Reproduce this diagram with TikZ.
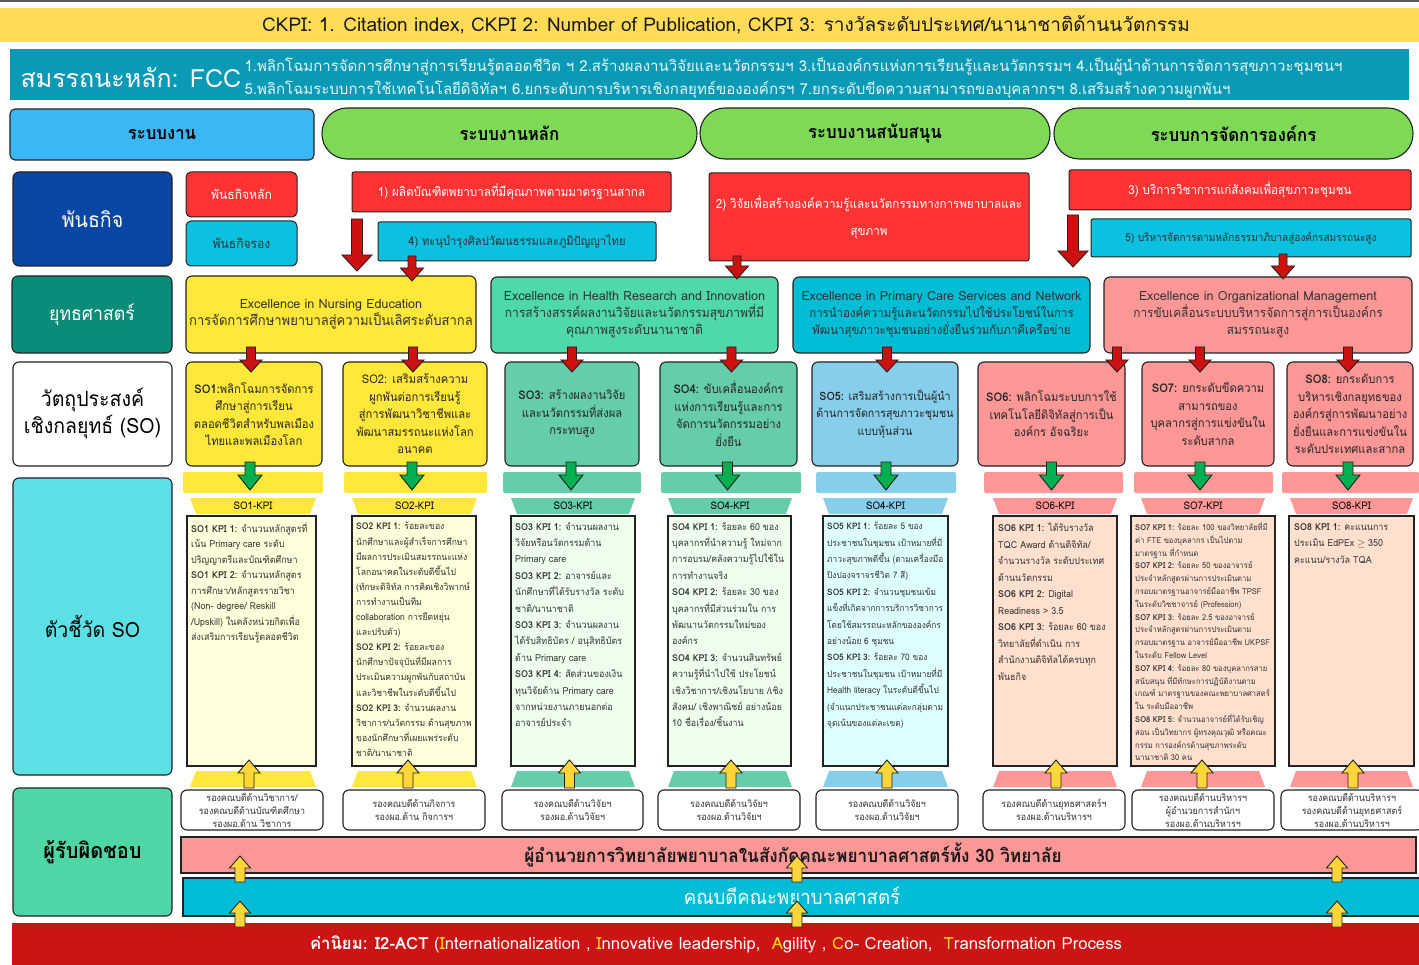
\documentclass[tikz,border=0pt]{standalone}
\usepackage{fontspec}
\setmainfont{Loma}[Script=Thai, FakeStretch=0.93]
\newfontfamily\widefont{Loma}[Script=Thai]
\usetikzlibrary{calc}

\definecolor{edge}{HTML}{222222}
\definecolor{hdryellow}{HTML}{FFDB58}
\definecolor{fccteal}{HTML}{0A9AB5}
\definecolor{fcctext}{HTML}{E4F6FA}
\definecolor{sysblue}{HTML}{3CB7F5}
\definecolor{sysgreen}{HTML}{7ED957}
\definecolor{misblue}{HTML}{0A46A5}
\definecolor{misred}{HTML}{FF3333}
\definecolor{miscyan}{HTML}{0CC0DF}
\definecolor{strteal}{HTML}{0A8C78}
\definecolor{stryellow}{HTML}{FFE83A}
\definecolor{strgreen}{HTML}{4FD8A8}
\definecolor{strcyan}{HTML}{00BDD6}
\definecolor{strpink}{HTML}{FF9797}
\definecolor{sogreen}{HTML}{66CDAA}
\definecolor{soblue}{HTML}{87CEEB}
\definecolor{kpiyellow}{HTML}{FFFFDC}
\definecolor{kpigreen}{HTML}{EEFFEE}
\definecolor{kpicyan}{HTML}{DDFFFF}
\definecolor{kpipeach}{HTML}{FFE0CF}
\definecolor{kpilbl}{HTML}{5CE0E6}
\definecolor{resgreen}{HTML}{4ED6A6}
\definecolor{bandcyan}{HTML}{00BCD6}
\definecolor{valred}{HTML}{CC1414}
\definecolor{arrred}{HTML}{CC1111}
\definecolor{arrgreen}{HTML}{00B050}
\definecolor{arryellow}{HTML}{FFD63A}
\definecolor{txt}{HTML}{333333}
\definecolor{valyellow}{HTML}{FFE600}

% box given by its pixel corners (x1,y1)-(x2,y2)
\newcommand\bx[7]{%
  \pgfmathsetmacro\bxw{#5-#3}%
  \pgfmathsetmacro\bxh{#6-#4}%
  \node[inner sep=0pt, outer sep=0pt, minimum width=\bxw pt, minimum height=\bxh pt, #2]
    (#1) at ({(#3+#5)/2},{(#4+#6)/2}) {#7};}

% vertical block arrow: style, start, tip, shaft half width, head half width, head length
\newcommand\varrow[6]{%
  \draw[#1] let \p1=(#2), \p2=(#3), \p3=($(#3)!#6!(#2)$) in
    (\x1-#4,\y1) -- (\x1-#4,\y3) -- (\x1-#5,\y3) -- (\x1,\y2)
    -- (\x1+#5,\y3) -- (\x1+#4,\y3) -- (\x1+#4,\y1) -- cycle;}

% strategy -> SO arrow
\newcommand\soarrow[3]{%
  \coordinate (rt#1) at ($(so#1.north)+(#2,10)$);
  \coordinate (rs#1) at ($(rt#1 |- #3.south)+(0,-6)$);
  \varrow{redarr}{rs#1}{rt#1}{4.5pt}{11pt}{12pt}}

% SO -> KPI band arrow
\newcommand\kpiarrow[2]{%
  \coordinate (gs#1) at ($(so#1.south)+(#2,-4)$);
  \coordinate (gt#1) at ($(gs#1 |- kp#1.north)+(0,-26)$);
  \varrow{greenarr}{gs#1}{gt#1}{5pt}{12pt}{15pt}}

% responsible -> KPI arrow
\newcommand\resarrow[2]{%
  \coordinate (ys#1) at ($(r#1.north)+(#2,-2)$);
  \coordinate (yt#1) at ($(ys#1 |- kp#1.south)+(0,-6)$);
  \varrow{yellowarr}{ys#1}{yt#1}{5pt}{11pt}{13pt}}

% KPI header trapezoid with label
\newcommand\trap[5]{%
  \fill[#2] (#3,498) -- (#4,498) -- ({#4-6},514) -- ({#3+6},514) -- cycle;
  \node[kpilabel] (#1) at ({(#3+#4)/2},506) {#5};}
% trapezoid under a KPI box
\newcommand\btrap[3]{%
  \fill[#1] ({#2+6},771) -- ({#3-6},771) -- (#3,787) -- (#2,787) -- cycle;}

% Latin heading line inside strategy boxes
\newcommand\lat[2]{{\widefont\fontsize{#1}{17}\selectfont #2}}

\tikzset{
  frame/.style={draw=edge, line width=1.1pt, rounded corners=5pt},
  pill/.style={frame, rounded corners=25pt, fill=sysgreen, font=\fontsize{18}{20}\selectfont\bfseries},
  mis/.style={draw=edge, line width=1pt, rounded corners=2pt, font=\fontsize{12.5}{27}\selectfont, align=center},
  lbl/.style={frame, rounded corners=6pt, align=center, font=\fontsize{21}{27}\selectfont},
  strat/.style={frame, rounded corners=6pt, align=center, text=txt, font=\fontsize{13}{17}\selectfont},
  sobox/.style={frame, rounded corners=6pt, align=center, text=black!85, font=\fontsize{12}{17.5}\selectfont},
  kpibox/.style={draw=edge, line width=1.1pt},
  kpitext/.style={anchor=north west, align=left, inner sep=0pt, text=txt, font=\fontsize{9.6}{15.5}\selectfont},
  kpilabel/.style={inner sep=0pt, text=black, font=\fontsize{10.5}{12}\selectfont},
  resbox/.style={frame, rounded corners=6pt, fill=white, align=center, text=txt, font=\fontsize{9.6}{13}\selectfont},
  redarr/.style={fill=arrred, draw=edge, line width=0.9pt},
  greenarr/.style={fill=arrgreen, draw=edge, line width=0.9pt},
  yellowarr/.style={fill=arryellow, draw=edge, line width=0.9pt},
}

\begin{document}
\begin{tikzpicture}[x=1pt, y=-1pt]
\useasboundingbox (0,0) rectangle (1419,965);
\fill[white] (0,0) rectangle (1419,965);
\fill[black!65] (0,0) rectangle (1419,2.5);

% ---- corporate KPI strip
\bx{ckpi}{fill=hdryellow}{0}{8}{1419}{42}{}
\node[font=\widefont\fontsize{19}{20}\selectfont, text=black!90] (ckpitext) at (726,25)
  {CKPI: 1. Citation index, CKPI 2: Number of Publication, CKPI 3: รางวัลระดับประเทศ/นานาชาติด้านนวัตกรรม};

% ---- core competencies
\bx{fcc}{fill=fccteal}{10}{49}{1409}{100}{}
\node[anchor=west, text=white, font=\widefont\fontsize{25}{26}\selectfont] (fcctitle) at (17,78) {สมรรถนะหลัก: FCC};
\node[anchor=west, align=left, text=fcctext, font=\widefont\fontsize{15}{22.5}\selectfont] (fcclist) at (241,78)
  {1.พลิกโฉมการจัดการศึกษาสู่การเรียนรู้ตลอดชีวิต ฯ 2.สร้างผลงานวิจัยและนวัตกรรมฯ 3.เป็นองค์กรแห่งการเรียนรู้และนวัตกรรมฯ 4.เป็นผู้นำด้านการจัดการสุขภาวะชุมชนฯ\\
   5.พลิกโฉมระบบการใช้เทคโนโลยีดิจิทัลฯ 6.ยกระดับการบริหารเชิงกลยุทธ์ขององค์กรฯ 7.ยกระดับขีดความสามารถของบุคลากรฯ 8.เสริมสร้างความผูกพันฯ};

% ---- work systems
\bx{sys}{frame, fill=sysblue, font=\fontsize{18}{20}\selectfont\bfseries}{10}{109}{314}{160}{ระบบงาน}
\bx{sys1}{pill}{322}{108}{697}{159}{ระบบงานหลัก}
\bx{sys2}{pill}{700}{108}{1050}{159}{ระบบงานสนับสนุน}
\bx{sys3}{pill}{1054}{108}{1413}{159}{ระบบการจัดการองค์กร}

% ---- missions
\bx{lmis}{lbl, fill=misblue, text=white}{13}{172}{172}{266}{พันธกิจ}
\bx{mmain}{mis, rounded corners=5pt, fill=misred, text=white, font=\fontsize{13}{16}\selectfont}{186}{172}{297}{217}{พันธกิจหลัก}
\bx{msub}{mis, rounded corners=5pt, fill=miscyan, text=txt, font=\fontsize{13}{16}\selectfont}{186}{221}{297}{266}{พันธกิจรอง}
\bx{m1}{mis, fill=misred, text=white}{352}{172}{671}{212}{1) ผลิตบัณฑิตพยาบาลที่มีคุณภาพตามมาตรฐานสากล}
\bx{m4}{mis, fill=miscyan, text=txt, font=\fontsize{12}{16}\selectfont}{378}{222}{656}{261}{4) ทะนุบำรุงศิลปวัฒนธรรมและภูมิปัญญาไทย}
\bx{m2}{mis, fill=misred, text=white}{709}{173}{1029}{261}{2) วิจัยเพื่อสร้างองค์ความรู้และนวัตกรรมทางการพยาบาลและ\\สุขภาพ}
\bx{m3}{mis, fill=misred, text=white}{1069}{170}{1411}{210}{3) บริการวิชาการแก่สังคมเพื่อสุขภาวะชุมชน}
\bx{m5}{mis, fill=miscyan, text=txt, font=\fontsize{10.8}{16}\selectfont}{1091}{219}{1411}{257}{5) บริหารจัดการตามหลักธรรมาภิบาลสู่องค์กรสมรรถนะสูง}

% ---- strategies
\bx{lstr}{lbl, fill=strteal, text=white, font=\fontsize{19}{22}\selectfont}{12}{276}{172}{353}{ยุทธศาสตร์}
\bx{st1}{strat, fill=stryellow, font=\fontsize{14}{17}\selectfont}{186}{276}{476}{353}{\lat{12.6}{Excellence in Nursing Education}\\การจัดการศึกษาพยาบาลสู่ความเป็นเลิศระดับสากล}
\bx{st2}{strat, fill=strgreen}{491}{277}{778}{353}{\lat{12.6}{Excellence in Health Research and Innovation}\\การสร้างสรรค์ผลงานวิจัยและนวัตกรรมสุขภาพที่มี\\คุณภาพสูงระดับนานาชาติ}
\bx{st3}{strat, fill=strcyan, font=\fontsize{12.3}{17}\selectfont}{793}{277}{1090}{353}{\lat{12.5}{Excellence in Primary Care Services and Network}\\การนำองค์ความรู้และนวัตกรรมไปใช้ประโยชน์ในการ\\พัฒนาสุขภาวะชุมชนอย่างยั่งยืนร่วมกับภาคีเครือข่าย}
\bx{st4}{strat, fill=strpink, font=\fontsize{12.75}{17}\selectfont}{1104}{277}{1412}{353}{\lat{12.6}{Excellence in Organizational Management}\\การขับเคลื่อนระบบบริหารจัดการสู่การเป็นองค์กร\\สมรรถนะสูง}

% mission -> strategy arrows
\coordinate (ba1s) at (357,219);
\coordinate (ba1t) at ($(ba1s |- st1.north)+(0,-5)$);
\varrow{redarr}{ba1s}{ba1t}{5.5pt}{15pt}{16pt}
\coordinate (a4s) at ($(m4.south west)+(34,-5)$);
\coordinate (a4t) at ($(a4s |- st1.north)+(0,5)$);
\varrow{redarr}{a4s}{a4t}{4pt}{11.5pt}{13pt}
\coordinate (a2s) at ($(m2.south west)+(28,-5)$);
\coordinate (a2t) at ($(a2s |- st2.north)+(0,2)$);
\varrow{redarr}{a2s}{a2t}{4pt}{11.5pt}{13pt}
\coordinate (ba2s) at (1073,215);
\coordinate (ba2t) at ($(ba2s |- st3.north)+(0,-10)$);
\varrow{redarr}{ba2s}{ba2t}{5.5pt}{15pt}{16pt}
\coordinate (a5s) at ($(m5.south west)+(192,-3)$);
\coordinate (a5t) at ($(a5s |- st4.north)+(0,2)$);
\varrow{redarr}{a5s}{a5t}{4pt}{11.5pt}{13pt}

% ---- strategic objectives
\bx{lso}{lbl, fill=white}{13}{362}{172}{466}{วัตถุประสงค์\\เชิงกลยุทธ์ (SO)}
\bx{so1}{sobox, fill=stryellow}{186}{362}{322}{466}{\textbf{SO1:}พลิกโฉมการจัดการ\\ศึกษาสู่การเรียน\\ตลอดชีวิตสำหรับพลเมือง\\ไทยและพลเมืองโลก}
\bx{so2}{sobox, fill=stryellow}{343}{362}{487}{466}{SO2: เสริมสร้างความ\\ผูกพันต่อการเรียนรู้\\สู่การพัฒนาวิชาชีพและ\\พัฒนาสมรรถนะแห่งโลก\\อนาคต}
\bx{so3}{sobox, fill=sogreen}{505}{362}{639}{466}{\textbf{SO3:} สร้างผลงานวิจัย\\และนวัตกรรมที่ส่งผล\\กระทบสูง}
\bx{so4}{sobox, fill=sogreen}{660}{362}{797}{466}{\textbf{SO4:} ขับเคลื่อนองค์กร\\แห่งการเรียนรู้และการ\\จัดการนวัตกรรมอย่าง\\ยั่งยืน}
\bx{so5}{sobox, fill=soblue, font=\fontsize{11.5}{17.5}\selectfont}{812}{362}{958}{466}{\textbf{SO5:} เสริมสร้างการเป็นผู้นำ\\ด้านการจัดการสุขภาวะชุมชน\\แบบหุ้นส่วน}
\bx{so6}{sobox, fill=strpink}{978}{362}{1125}{466}{\textbf{SO6:} พลิกโฉมระบบการใช้\\เทคโนโลยีดิจิทัลสู่การเป็น\\องค์กร อัจฉริยะ}
\bx{so7}{sobox, fill=strpink}{1142}{362}{1274}{466}{\textbf{SO7:} ยกระดับขีดความ\\สามารถของ\\บุคลากรสู่การแข่งขันใน\\ระดับสากล}
\bx{so8}{sobox, fill=strpink}{1287}{362}{1413}{466}{\textbf{SO8:} ยกระดับการ\\บริหารเชิงกลยุทธของ\\องค์กรสู่การพัฒนาอย่าง\\ยั่งยืนและการแข่งขันใน\\ระดับประเทศและสากล}

% ---- KPI bands and labels
\bx{bd1}{fill=stryellow, rounded corners=1.5pt}{183}{472}{323}{493}{}
\bx{bd2}{fill=stryellow, rounded corners=1.5pt}{344}{472}{487}{493}{}
\bx{bd3}{fill=sogreen, rounded corners=1.5pt}{503}{472}{641}{493}{}
\bx{bd4}{fill=sogreen, rounded corners=1.5pt}{661}{472}{801}{493}{}
\bx{bd5}{fill=soblue, rounded corners=1.5pt}{816}{472}{956}{493}{}
\bx{bd6}{fill=strpink, rounded corners=1.5pt}{984}{472}{1123}{493}{}
\bx{bd7}{fill=strpink, rounded corners=1.5pt}{1134}{472}{1273}{493}{}
\bx{bd8}{fill=strpink, rounded corners=1.5pt}{1282}{472}{1419}{493}{}

\trap{kl1}{stryellow}{190}{316}{SO1-KPI}
\trap{kl2}{stryellow}{352}{477}{SO2-KPI}
\trap{kl3}{sogreen}{511}{635}{SO3-KPI}
\trap{kl4}{sogreen}{668}{792}{SO4-KPI}
\trap{kl5}{soblue}{823}{948}{SO4-KPI}
\trap{kl6}{strpink}{993}{1117}{SO6-KPI}
\trap{kl7}{strpink}{1141}{1265}{SO7-KPI}
\trap{kl8}{strpink}{1290}{1413}{SO8-KPI}

\bx{lkpi}{lbl, fill=kpilbl, font=\fontsize{21}{24}\selectfont}{13}{478}{172}{775}{ตัวชี้วัด SO}

% ---- KPI boxes
\bx{kp1}{kpibox, fill=kpiyellow}{187}{516}{316}{766}{}
\bx{kp2}{kpibox, fill=kpiyellow}{352}{516}{476}{766}{}
\bx{kp3}{kpibox, fill=kpigreen}{511}{516}{635}{766}{}
\bx{kp4}{kpibox, fill=kpigreen}{668}{516}{791}{766}{}
\bx{kp5}{kpibox, fill=kpicyan}{823}{516}{948}{766}{}
\bx{kp6}{kpibox, fill=kpipeach}{993}{516}{1117}{766}{}
\bx{kp7}{kpibox, fill=kpipeach}{1131}{516}{1275}{766}{}
\bx{kp8}{kpibox, fill=kpipeach}{1289}{516}{1414}{766}{}

\node[kpitext] (kt1) at ($(kp1.north west)+(4,6)$) {%
\textbf{SO1 KPI 1:} จำนวนหลักสูตรที่\\
เน้น Primary care ระดับ\\
ปริญญาตรีและบัณฑิตศึกษา\\
\textbf{SO1 KPI 2:} จำนวนหลักสูตร\\
การศึกษา/หลักสูตรรายวิชา\\
(Non- degree/ Reskill\\
/Upskill) ในคลังหน่วยกิตเพื่อ\\
ส่งเสริมการเรียนรู้ตลอดชีวิต};

\node[kpitext, font=\fontsize{9.25}{15.1}\selectfont] (kt2) at ($(kp2.north west)+(4,6)$) {%
\textbf{SO2 KPI 1:} ร้อยละของ\\
นักศึกษาและผู้สำเร็จการศึกษา\\
มีผลการประเมินสมรรถนะแห่ง\\
โลกอนาคตในระดับดีขึ้นไป\\
(ทักษะดิจิทัล การคิดเชิงวิพากษ์\\
การทำงานเป็นทีม\\
collaboration การยืดหยุ่น\\
และปรับตัว)\\
\textbf{SO2 KPI 2:} ร้อยละของ\\
นักศึกษาปัจจุบันที่มีผลการ\\
ประเมินความผูกพันกับสถาบัน\\
และวิชาชีพในระดับดีขึ้นไป\\
\textbf{SO2 KPI 3:} จำนวนผลงาน\\
วิชาการ/นวัตกรรม ด้านสุขภาพ\\
ของนักศึกษาที่เผยแพร่ระดับ\\
ชาติ/นานาชาติ};

\node[kpitext, font=\fontsize{9.6}{16.4}\selectfont] (kt3) at ($(kp3.north west)+(4,6)$) {%
\textbf{SO3 KPI 1:} จำนวนผลงาน\\
วิจัยหรือนวัตกรรมด้าน\\
Primary care\\
\textbf{SO3 KPI 2:} อาจารย์และ\\
นักศึกษาที่ได้รับรางวัล ระดับ\\
ชาติ/นานาชาติ\\
\textbf{SO3 KPI 3:} จำนวนผลงาน\\
ได้รับสิทธิบัตร / อนุสิทธิบัตร\\
ด้าน Primary care\\
\textbf{SO3 KPI 4:} สัดส่วนของเงิน\\
ทุนวิจัยด้าน Primary care\\
จากหน่วยงานภายนอกต่อ\\
อาจารย์ประจำ};

\node[kpitext, font=\fontsize{9.5}{16.4}\selectfont] (kt4) at ($(kp4.north west)+(4,6)$) {%
\textbf{SO4 KPI 1:} ร้อยละ 60 ของ\\
บุคลากรที่นำความรู้ ใหม่จาก\\
การอบรม/คลังความรู้ไปใช้ใน\\
การทำงานจริง\\
\textbf{SO4 KPI 2:} ร้อยละ 30 ของ\\
บุคลากรที่มีส่วนร่วมใน การ\\
พัฒนานวัตกรรมใหม่ของ\\
องค์กร\\
\textbf{SO4 KPI 3:} จำนวนสินทรัพย์\\
ความรู้ที่นำไปใช้ ประโยชน์\\
เชิงวิชาการ/เชิงนโยบาย /เชิง\\
สังคม/ เชิงพาณิชย์ อย่างน้อย\\
10 ชื่อเรื่อง/ชิ้นงาน};

\node[kpitext, font=\fontsize{8.95}{16.4}\selectfont] (kt5) at ($(kp5.north west)+(4,6)$) {%
\textbf{SO5 KPI 1:} ร้อยละ 5 ของ\\
ประชาชนในชุมชน เป้าหมายที่มี\\
ภาวะสุขภาพดีขึ้น (ตามเครื่องมือ\\
ปิงปองจราจรชีวิต 7 สี)\\
\textbf{SO5 KPI 2:} จำนวนชุมชนเข้ม\\
แข็งที่เกิดจากการบริการวิชาการ\\
โดยใช้สมรรถนะหลักขององค์กร\\
อย่างน้อย 6 ชุมชน\\
\textbf{SO5 KPI 3:} ร้อยละ 70 ของ\\
ประชาชนในชุมชน เป้าหมายที่มี\\
Health literacy ในระดับดีขึ้นไป\\
(จำแนกประชาชนแต่ละกลุ่มตาม\\
จุดเน้นของแต่ละเขต)};

\node[kpitext, font=\fontsize{9.6}{16.5}\selectfont] (kt6) at ($(kp6.north west)+(5,7)$) {%
\textbf{SO6 KPI 1:} ได้รับรางวัล\\
TQC Award ด้านดิจิทัล/\\
จำนวนรางวัล ระดับประเทศ\\
ด้านนวัตกรรม\\
\textbf{SO6 KPI 2:} Digital\\
Readiness > 3.5\\
\textbf{SO6 KPI 3:} ร้อยละ 60 ของ\\
วิทยาลัยที่ดำเนิน การ\\
สำนักงานดิจิทัลได้ครบทุก\\
พันธกิจ};

\node[kpitext, font=\fontsize{8.15}{12.8}\selectfont] (kt7) at ($(kp7.north west)+(4,6)$) {%
\textbf{SO7 KPI 1:} ร้อยละ 100 ของวิทยาลัยที่มี\\
ค่า FTE ของบุคลากร เป็นไปตาม\\
มาตรฐาน ที่กำหนด\\
\textbf{SO7 KPI 2:} ร้อยละ 50 ของอาจารย์\\
ประจำหลักสูตรผ่านการประเมินตาม\\
กรอบมาตรฐานอาจารย์มืออาชีพ TPSF\\
ในระดับวิชชาจารย์ (Profession)\\
\textbf{SO7 KPI 3:} ร้อยละ 2.5 ของอาจารย์\\
ประจำหลักสูตรผ่านการประเมินตาม\\
กรอบมาตรฐาน อาจารย์มืออาชีพ UKPSF\\
ในระดับ Fellow Level\\
\textbf{SO7 KPI 4:} ร้อยละ 80 ของบุคลากรสาย\\
สนับสนุน ที่มีทักษะการปฏิบัติงานตาม\\
เกณฑ์ มาตรฐานของคณะพยาบาลศาสตร์\\
ใน ระดับมืออาชีพ\\
\textbf{SO8 KPI 5:} จำนวนอาจารย์ที่ได้รับเชิญ\\
สอน เป็นวิทยากร ผู้ทรงคุณวุฒิ หรือคณะ\\
กรรม การองค์กรด้านสุขภาพระดับ\\
นานาชาติ 30 คน};

\node[kpitext, font=\fontsize{9.6}{16.7}\selectfont] (kt8) at ($(kp8.north west)+(5,7)$) {%
\textbf{SO8 KPI 1:} คะแนนการ\\
ประเมิน EdPEx $\geq$ 350\\
คะแนน/รางวัล TQA};

% ---- lower trapezoids
\btrap{stryellow}{190}{316}
\btrap{stryellow}{352}{477}
\btrap{sogreen}{511}{635}
\btrap{sogreen}{668}{792}
\btrap{soblue}{823}{948}
\btrap{strpink}{993}{1117}
\btrap{strpink}{1141}{1265}
\btrap{strpink}{1290}{1413}

% ---- responsible persons
\bx{lresp}{lbl, fill=resgreen, font=\fontsize{21.5}{24}\selectfont\bfseries}{13}{788}{172}{916}{ผู้รับผิดชอบ}
\bx{r1}{resbox}{181}{790}{323}{830}{รองคณบดีด้านวิชาการ/\\รองคณบดีด้านบัณฑิตศึกษา\\รองผอ.ด้าน วิชาการ}
\bx{r2}{resbox}{343}{790}{485}{830}{รองคณบดีด้านกิจการ\\รองผอ.ด้าน กิจการฯ}
\bx{r3}{resbox}{502}{790}{643}{830}{รองคณบดีด้านวิจัยฯ\\รองผอ.ด้านวิจัยฯ}
\bx{r4}{resbox}{658}{790}{800}{830}{รองคณบดีด้านวิจัยฯ\\รองผอ.ด้านวิจัยฯ}
\bx{r5}{resbox}{816}{790}{958}{830}{รองคณบดีด้านวิจัยฯ\\รองผอ.ด้านวิจัยฯ}
\bx{r6}{resbox}{983}{790}{1125}{830}{รองคณบดีด้านยุทธศาสตร์ฯ\\รองผอ.ด้านบริหารฯ}
\bx{r7}{resbox}{1132}{790}{1274}{830}{รองคณบดีด้านบริหารฯ\\ผู้อำนวยการสำนักฯ\\รองผอ.ด้านบริหารฯ}
\bx{r8}{resbox}{1281}{790}{1423}{830}{รองคณบดีด้านบริหารฯ\\รองคณบดีด้านยุทธศาสตร์\\รองผอ.ด้านบริหารฯ}

% ---- arrows between rows
\soarrow{1}{-3}{st1}
\soarrow{2}{-2}{st1}
\soarrow{3}{0}{st2}
\soarrow{4}{3}{st2}
\soarrow{5}{2}{st3}
\coordinate (rt6) at ($(so6.north east)+(-8,10)$);
\coordinate (rs6) at ($(rt6 |- st4.south)+(0,-6)$);
\varrow{redarr}{rs6}{rt6}{4.5pt}{11pt}{12pt}
\soarrow{7}{-8}{st4}
\soarrow{8}{-2}{st4}

\kpiarrow{1}{-4}
\kpiarrow{2}{-3}
\kpiarrow{3}{-1}
\kpiarrow{4}{-1}
\kpiarrow{5}{1}
\kpiarrow{6}{0}
\kpiarrow{7}{-8}
\kpiarrow{8}{-2}

\resarrow{1}{-3}
\resarrow{2}{-6}
\resarrow{3}{-3}
\resarrow{4}{2}
\resarrow{5}{0}
\resarrow{6}{2}
\resarrow{7}{-1}
\resarrow{8}{1}

% ---- governance bands and values
\bx{pband}{draw=edge, line width=1.1pt, fill=strpink}{181}{837}{1416}{873}{}
\node[font=\fontsize{18.5}{22}\selectfont\bfseries, text=black!90] (ptext) at (793,855)
  {ผู้อำนวยการวิทยาลัยพยาบาลในสังกัดคณะพยาบาลศาสตร์ทั้ง 30 วิทยาลัย};
\bx{cband}{draw=edge, line width=1.1pt, fill=bandcyan}{183}{878}{1425}{916}{}
\node[font=\fontsize{20}{22}\selectfont, text=white] (ctext) at (792,896) {คณบดีคณะพยาบาลศาสตร์};
\bx{vband}{fill=valred}{12}{923}{1425}{970}{}
\node[font=\widefont\fontsize{16.7}{20}\selectfont, text=white] (vtext) at (716,944)
  {\textbf{ค่านิยม: I2-ACT} (\textcolor{valyellow}{I}nternationalization , \textcolor{valyellow}{I}nnovative leadership,\ \ \textcolor{valyellow}{A}gility , \textcolor{valyellow}{C}o- Creation,\ \ \textcolor{valyellow}{T}ransformation Process};

\foreach \dx/\k in {228/1, 785/2, 1325/3} {
  \coordinate (va\k) at ($(vband.north west)+(\dx,4)$);
  \coordinate (vt\k) at ($(va\k |- cband.north)+(0,23)$);
  \varrow{yellowarr}{va\k}{vt\k}{5pt}{10.5pt}{12pt}
  \coordinate (ca\k) at ($(va\k |- cband.north)+(0,4)$);
  \coordinate (ct\k) at ($(ca\k |- pband.north)+(0,19)$);
  \varrow{yellowarr}{ca\k}{ct\k}{5pt}{10.5pt}{12pt}
}
\end{tikzpicture}
\end{document}
